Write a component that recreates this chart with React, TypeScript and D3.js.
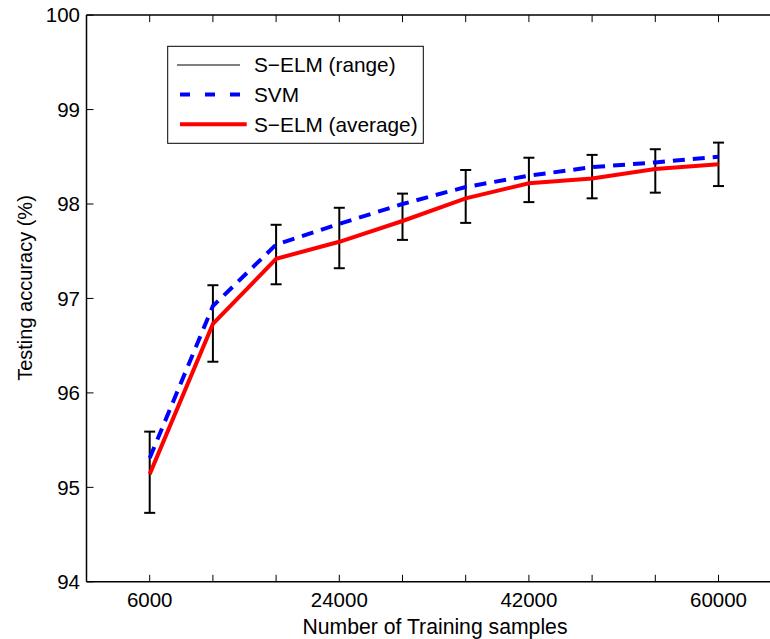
import React from "react";
import * as d3 from "d3";

const samples = [6000, 12000, 18000, 24000, 30000, 36000, 42000, 48000, 54000, 60000];
const selmAverage = [95.14, 96.73, 97.42, 97.6, 97.82, 98.06, 98.22, 98.27, 98.37, 98.42];
const svmValues = [95.31, 96.92, 97.57, 97.79, 98.0, 98.18, 98.3, 98.39, 98.44, 98.5];
const selmMin = [94.73, 96.33, 97.15, 97.32, 97.62, 97.8, 98.02, 98.06, 98.12, 98.19];
const selmMax = [95.59, 97.14, 97.78, 97.96, 98.11, 98.36, 98.49, 98.52, 98.58, 98.65];
const xTickLabels = [6000, 24000, 42000, 60000];
const xTickMarks = [6000, 12000, 18000, 24000, 30000, 36000, 42000, 48000, 54000, 60000];
const yTicks = [94, 95, 96, 97, 98, 99, 100];
const legendLabels = ["S\u2212ELM (range)", "SVM", "S\u2212ELM (average)"];

const W = 770;
const H = 639;
const FONT = "'Liberation Sans', Arial, Helvetica, sans-serif";

export default function App() {
  const left = 86.5;
  const top = 15.1;
  const bottom = 581.8;
  const x = d3.scaleLinear().domain([0, 66000]).range([left, left + 11 * 63.2]);
  const y = d3.scaleLinear().domain([94, 100]).range([bottom, top]);
  const right = W + 2;

  const line = d3
    .line<number>()
    .x((_, i) => x(samples[i]))
    .y((d) => y(d));

  const cap = 5.5;
  const tickLen = 7;

  const legX = 167.7;
  const legY = 46.3;
  const legW = 255.6;
  const legH = 97;
  const rowY = [65, 94.5, 124.3];

  return (
    <svg
      width={W}
      height={H}
      style={{ position: "absolute", left: 0, top: 0, background: "#fff" }}
      fontFamily={FONT}
    >
      <rect x={0} y={0} width={W} height={H} fill="#fff" />
      {/* error bars */}
      <g stroke="#000" strokeWidth={2} fill="none">
        {samples.map((s, i) => (
          <g key={"e" + i}>
            <line x1={x(s)} x2={x(s)} y1={y(selmMin[i])} y2={y(selmMax[i])} />
            <line x1={x(s) - cap} x2={x(s) + cap} y1={y(selmMin[i])} y2={y(selmMin[i])} />
            <line x1={x(s) - cap} x2={x(s) + cap} y1={y(selmMax[i])} y2={y(selmMax[i])} />
          </g>
        ))}
      </g>
      {/* SVM */}
      <path d={line(svmValues) || ""} fill="none" stroke="#0000ff" strokeWidth={4} strokeDasharray="12 8" />
      {/* S-ELM average */}
      <path d={line(selmAverage) || ""} fill="none" stroke="#ff0000" strokeWidth={4} strokeLinejoin="miter" />

      {/* axes (right side lies outside the picture) */}
      <g stroke="#000" strokeWidth={1.5} fill="none">
        <line x1={left} x2={right} y1={bottom} y2={bottom} />
        <line x1={left} x2={right} y1={top} y2={top} />
        <line x1={left} x2={left} y1={top} y2={bottom} />
        {xTickMarks.map((t) => (
          <g key={"xt" + t}>
            <line x1={x(t)} x2={x(t)} y1={bottom} y2={bottom - tickLen} strokeWidth={1} />
            <line x1={x(t)} x2={x(t)} y1={top} y2={top + tickLen} strokeWidth={1} />
          </g>
        ))}
        {yTicks.map((t) => (
          <line key={"yt" + t} x1={left} x2={left + tickLen} y1={y(t)} y2={y(t)} strokeWidth={1} />
        ))}
      </g>
      {/* tick labels */}
      <g fontSize={20.5} fill="#000">
        {xTickLabels.map((t) => (
          <text key={"xl" + t} x={x(t)} y={607} textAnchor="middle">
            {t}
          </text>
        ))}
        {yTicks.map((t) => (
          <text key={"yl" + t} x={80} y={y(t)} dy="0.36em" textAnchor="end">
            {t}
          </text>
        ))}
      </g>
      {/* axis titles */}
      <text x={435} y={634} fontSize={21.2} textAnchor="middle" fill="#000">
        Number of Training samples
      </text>
      <text
        transform={`translate(32,288) rotate(-90)`}
        fontSize={20}
        textAnchor="middle"
        fill="#000"
      >
        Testing accuracy (%)
      </text>

      {/* legend */}
      <rect x={legX} y={legY} width={legW} height={legH} fill="#fff" stroke="#000" strokeWidth={1} />
      <line x1={177} x2={240} y1={rowY[0]} y2={rowY[0]} stroke="#000" strokeWidth={1} />
      <line x1={180} x2={246.7} y1={rowY[1]} y2={rowY[1]} stroke="#0000ff" strokeWidth={4} strokeDasharray="10 15" />
      <line x1={180} x2={246.7} y1={rowY[2]} y2={rowY[2]} stroke="#ff0000" strokeWidth={4} />
      <g fontSize={20.8} fill="#000">
        {legendLabels.map((l, i) => (
          <text key={"lg" + i} x={254} y={rowY[i]} dy="0.36em">
            {l}
          </text>
        ))}
      </g>
    </svg>
  );
}
